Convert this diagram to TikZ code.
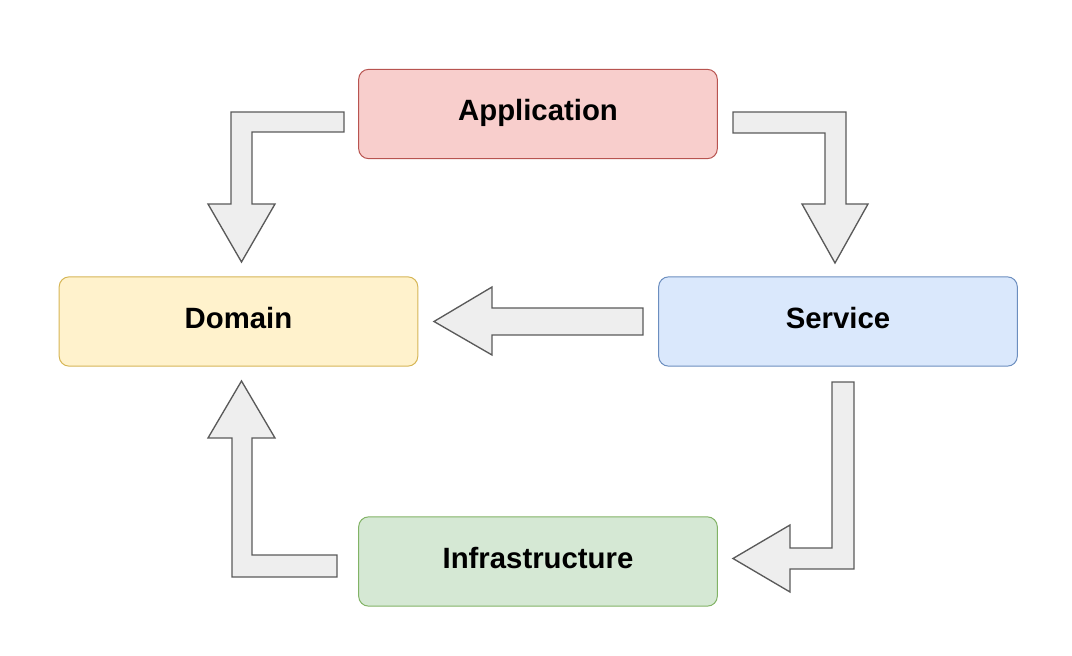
\documentclass[tikz,border=0pt]{standalone}
\usepackage{fontspec}
\setmainfont{Liberation Sans}
\definecolor{appfill}{HTML}{F8CECC}
\definecolor{appline}{HTML}{B85450}
\definecolor{domfill}{HTML}{FFF2CC}
\definecolor{domline}{HTML}{D6B656}
\definecolor{srvfill}{HTML}{DAE8FC}
\definecolor{srvline}{HTML}{6C8EBF}
\definecolor{infill}{HTML}{D5E8D4}
\definecolor{inline}{HTML}{82B366}
\definecolor{arrfill}{HTML}{EEEEEE}
\definecolor{arrline}{HTML}{5A5A5A}
\tikzset{
	layer/.style={draw, rounded corners=7.5pt, line width=0.75pt, minimum width=269pt, minimum height=67pt, text height=15pt, text depth=5pt, font=\fontsize{22}{26}\selectfont\bfseries},
	flexarrow/.style={draw=arrline, fill=arrfill, line width=1pt, line join=miter}
}

\begin{document}
\begin{tikzpicture}[x=0.75pt, y=-0.75pt]
			%%%%% START %%%%%
			
			\useasboundingbox (0, 0) rectangle (1072, 656);
			
			\node[layer, fill=appfill, draw=appline] (app) at (538, 114) {Application};
			\node[layer, fill=domfill, draw=domline] (dom) at (238.5, 321.5) {Domain};
			\node[layer, fill=srvfill, draw=srvline] (srv) at (838, 321.5) {Service};
			\node[layer, fill=infill, draw=inline] (infra) at (538, 561.5) {Infrastructure};
			
			% application -> domain
			\draw[flexarrow] (344, 112) -- (231, 112) -- (231, 204) -- (208, 204) -- (241.5, 262) -- (275, 204) -- (252, 204) -- (252, 132) -- (344, 132) -- cycle;
			
			% application -> service
			\draw[flexarrow] (733, 112) -- (846, 112) -- (846, 204) -- (868, 204) -- (835, 263) -- (802, 204) -- (825, 204) -- (825, 133) -- (733, 133) -- cycle;
			
			% service -> domain
			\draw[flexarrow] (643, 308) -- (492, 308) -- (492, 287) -- (434, 321.5) -- (492, 355) -- (492, 335) -- (643, 335) -- cycle;
			
			% infrastructure -> domain
			\draw[flexarrow] (337, 577) -- (232, 577) -- (232, 438) -- (208, 438) -- (241.5, 381) -- (275, 438) -- (252, 438) -- (252, 555) -- (337, 555) -- cycle;
			
			% service -> infrastructure
			\draw[flexarrow] (832, 382) -- (854, 382) -- (854, 569) -- (790, 569) -- (790, 592) -- (733, 558.5) -- (790, 525) -- (790, 548) -- (832, 548) -- cycle;
			
			%%%%% END %%%%%
		\end{tikzpicture}
\end{document}
